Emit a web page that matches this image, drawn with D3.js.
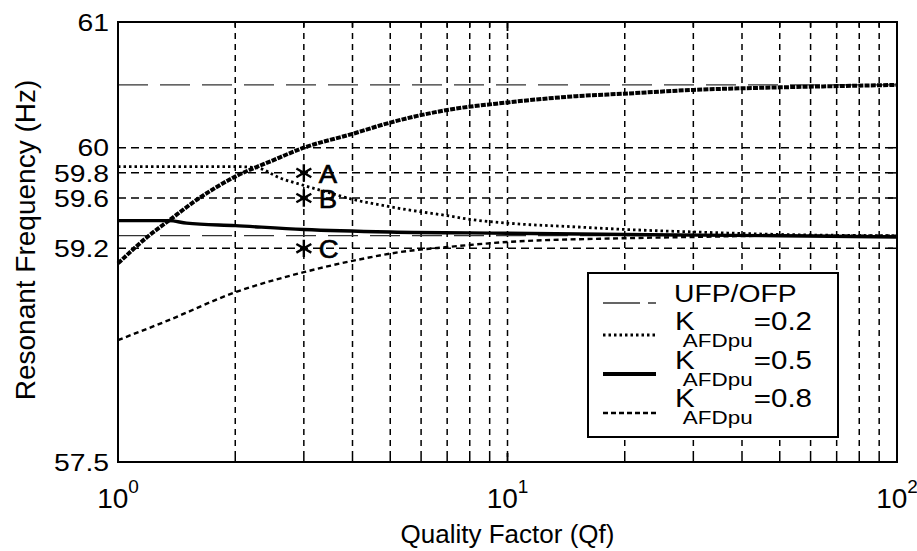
<!DOCTYPE html>
<html>
<head>
<meta charset="utf-8">
<title>Resonant Frequency vs Quality Factor</title>
<script src="https://d3js.org/d3.v7.min.js"></script>
<style>
  body { margin: 0; background: #fff; }
  text { font-family: "Liberation Sans", Arial, sans-serif; fill: #000; }
</style>
</head>
<body>
<script>
// ---- data ----
var yTicks = [57.5, 59.2, 59.6, 59.8, 60, 61];
var xTicks = [1, 10, 100];
var xExponents = ["0", "1", "2"];

var ofpLevel = 60.5;
var ufpLevel = 59.3;

// rising boundary curve
var boundaryQ = [1, 1.2, 1.35, 1.6, 2, 2.5, 3, 4, 5, 7, 10, 15, 20, 30, 50, 70, 100];
var boundaryF = [59.08, 59.3, 59.42, 59.59, 59.77, 59.9, 60.0, 60.11, 60.2, 60.3, 60.36, 60.41, 60.43, 60.46, 60.48, 60.49, 60.5];

// K_AFDpu = 0.2
var k02Q = [1, 1.5, 2, 2.28, 2.6, 3, 3.5, 4, 5, 6, 7, 8, 10, 15, 20, 30, 50, 100];
var k02F = [59.85, 59.85, 59.85, 59.84, 59.76, 59.70, 59.64, 59.59, 59.53, 59.49, 59.46, 59.43, 59.40, 59.37, 59.35, 59.33, 59.31, 59.3];

// K_AFDpu = 0.5
var k05Q = [1, 1.35, 1.5, 2, 3, 5, 10, 20, 50, 100];
var k05F = [59.42, 59.42, 59.40, 59.38, 59.35, 59.33, 59.32, 59.31, 59.30, 59.29];

// K_AFDpu = 0.8
var k08Q = [1, 1.33, 2, 3, 4, 5.3, 7, 10, 20, 30, 50, 100];
var k08F = [58.47, 58.62, 58.85, 59.01, 59.1, 59.17, 59.21, 59.25, 59.28, 59.29, 59.3, 59.3];

// operating points
var pointQ = [3, 3, 3];
var pointF = [59.8, 59.6, 59.2];
var pointLabels = ["A", "B", "C"];

var legendValues = ["=0.2", "=0.5", "=0.8"];

// ---- layout ----
var W = 917, H = 551;
var margin = {top: 22, right: 20, bottom: 89, left: 118};
var iw = W - margin.left - margin.right;
var ih = H - margin.top - margin.bottom;
var stretch = 1.18; // the scanned text is a bit wider than Arial

var x = d3.scaleLog().domain([1, 100]).range([0, iw]);
var y = d3.scaleLinear().domain([57.5, 61]).range([ih, 0]);

var svg = d3.select("body").append("svg")
  .attr("width", W)
  .attr("height", H);

var g = svg.append("g")
  .attr("transform", "translate(" + margin.left + "," + margin.top + ")");

// minor log positions for grid (2..9, 10, 20..90)
var gridQ = [];
[1, 10].forEach(function(dec) {
  for (var m = 1; m <= 9; m++) {
    var v = dec * m;
    if (v > 1 && v < 100) gridQ.push(v);
  }
});

// vertical grid
g.selectAll("line.vgrid").data(gridQ).enter().append("line")
  .attr("class", "vgrid")
  .attr("x1", function(d) { return x(d); })
  .attr("x2", function(d) { return x(d); })
  .attr("y1", 0).attr("y2", ih)
  .attr("stroke", "#000").attr("stroke-width", 1.5)
  .attr("stroke-dasharray", "6,5");

// horizontal grid (inner ticks only)
var hGrid = yTicks.filter(function(d) { return d > 57.5 && d < 61; });
g.selectAll("line.hgrid").data(hGrid).enter().append("line")
  .attr("class", "hgrid")
  .attr("x1", 0).attr("x2", iw)
  .attr("y1", function(d) { return y(d); })
  .attr("y2", function(d) { return y(d); })
  .attr("stroke", "#000").attr("stroke-width", 1.5)
  .attr("stroke-dasharray", "8,5");

// UFP / OFP thresholds
g.selectAll("line.limit").data([ofpLevel, ufpLevel]).enter().append("line")
  .attr("class", "limit")
  .attr("x1", 0).attr("x2", iw)
  .attr("y1", function(d) { return y(d); })
  .attr("y2", function(d) { return y(d); })
  .attr("stroke", "#333").attr("stroke-width", 1.3)
  .attr("stroke-dasharray", "30,12");

// curves
function zip(qs, fs) { return qs.map(function(q, i) { return [q, fs[i]]; }); }
var line = d3.line()
  .x(function(d) { return x(d[0]); })
  .y(function(d) { return y(d[1]); })
  .curve(d3.curveMonotoneX);

var series = [
  {pts: zip(k08Q, k08F), w: 2.4, dash: "5,3.5"},
  {pts: zip(k05Q, k05F), w: 3.4, dash: null},
  {pts: zip(k02Q, k02F), w: 2.8, dash: "2.5,3"},
  {pts: zip(boundaryQ, boundaryF), w: 4, dash: "5,1.2"}
];

g.selectAll("path.curve").data(series).enter().append("path")
  .attr("class", "curve")
  .attr("d", function(d) { return line(d.pts); })
  .attr("fill", "none")
  .attr("stroke", "#000")
  .attr("stroke-width", function(d) { return d.w; })
  .attr("stroke-dasharray", function(d) { return d.dash; });

// operating points A, B, C
var pts = pointQ.map(function(q, i) { return {q: q, f: pointF[i], label: pointLabels[i]}; });
g.selectAll("path.pt").data(pts).enter().append("path")
  .attr("class", "pt")
  .attr("transform", function(d) { return "translate(" + x(d.q) + "," + y(d.f) + ")"; })
  .attr("d", d3.symbol(d3.symbolAsterisk, 210))
  .attr("fill", "none").attr("stroke", "#000").attr("stroke-width", 2.4);

g.selectAll("text.ptlabel").data(pts).enter().append("text")
  .attr("class", "ptlabel")
  .attr("transform", function(d) {
    return "translate(" + (x(d.q) + 15) + "," + (y(d.f) + 10) + ") scale(1.1,1)";
  })
  .attr("font-size", 25)
  .attr("stroke", "#000").attr("stroke-width", 0.6)
  .text(function(d) { return d.label; });

// frame
g.append("rect")
  .attr("width", iw).attr("height", ih)
  .attr("fill", "none").attr("stroke", "#000").attr("stroke-width", 2);

// inner ticks
var tickQ = [1, 10, 100].concat(gridQ);
g.selectAll("line.xtb").data(tickQ).enter().append("line")
  .attr("x1", function(d) { return x(d); }).attr("x2", function(d) { return x(d); })
  .attr("y1", ih).attr("y2", function(d) { return ih - (xTicks.indexOf(d) >= 0 ? 9 : 5); })
  .attr("stroke", "#000").attr("stroke-width", 1.5);
g.selectAll("line.xtt").data(tickQ).enter().append("line")
  .attr("x1", function(d) { return x(d); }).attr("x2", function(d) { return x(d); })
  .attr("y1", 0).attr("y2", function(d) { return (xTicks.indexOf(d) >= 0 ? 9 : 5); })
  .attr("stroke", "#000").attr("stroke-width", 1.5);
g.selectAll("line.ytr").data(yTicks).enter().append("line")
  .attr("x1", iw).attr("x2", iw - 9)
  .attr("y1", function(d) { return y(d); }).attr("y2", function(d) { return y(d); })
  .attr("stroke", "#000").attr("stroke-width", 1.5);

// y tick labels
g.selectAll("text.ytick").data(yTicks).enter().append("text")
  .attr("class", "ytick")
  .attr("transform", function(d) { return "translate(-9," + y(d) + ") scale(" + stretch + ",1)"; })
  .attr("dy", "0.36em")
  .attr("text-anchor", "end")
  .attr("font-size", 24)
  .text(function(d) { return String(d); });

// x tick labels 10^n
var xl = g.selectAll("text.xtick").data(xTicks).enter().append("text")
  .attr("class", "xtick")
  .attr("x", function(d) { return x(d); })
  .attr("y", ih + 46)
  .attr("text-anchor", "middle")
  .attr("font-size", 28);
xl.append("tspan").text("10");
xl.append("tspan")
  .attr("dy", -15)
  .attr("font-size", 19)
  .text(function(d, i) { return xExponents[i]; });

// axis titles
g.append("text")
  .attr("x", iw / 2)
  .attr("y", ih + 81)
  .attr("text-anchor", "middle")
  .attr("font-size", 26)
  .text("Quality Factor (Qf)");

svg.append("text")
  .attr("transform", "translate(35,240) rotate(-90)")
  .attr("text-anchor", "middle")
  .attr("font-size", 28)
  .text("Resonant Frequency (Hz)");

// legend
var lg = svg.append("g").attr("transform", "translate(588,273)");
lg.append("rect")
  .attr("width", 250).attr("height", 164)
  .attr("fill", "#fff").attr("stroke", "#000").attr("stroke-width", 2);

var legendStyles = [
  {w: 1.3, dash: "37,8", stroke: "#333"},
  {w: 2.8, dash: "2.5,3", stroke: "#000"},
  {w: 3.8, dash: null, stroke: "#000"},
  {w: 2.4, dash: "5,3", stroke: "#000"}
];
var sampleY = [30, 62, 101, 140];
lg.selectAll("line.sample").data(legendStyles).enter().append("line")
  .attr("x1", 15).attr("x2", 68)
  .attr("y1", function(d, i) { return sampleY[i]; })
  .attr("y2", function(d, i) { return sampleY[i]; })
  .attr("stroke", function(d) { return d.stroke; })
  .attr("stroke-width", function(d) { return d.w; })
  .attr("stroke-dasharray", function(d) { return d.dash; });

lg.append("text")
  .attr("transform", "translate(86,29) scale(" + stretch + ",1)")
  .attr("font-size", 24)
  .text("UFP/OFP");

var kText = lg.selectAll("text.krow").data(legendValues).enter().append("text")
  .attr("class", "krow")
  .attr("transform", function(d, i) {
    return "translate(87," + (57 + i * 38.5) + ") scale(" + stretch + ",1)";
  })
  .attr("font-size", 25);
kText.append("tspan").text("K");
kText.append("tspan")
  .attr("dx", -10).attr("dy", 17)
  .attr("font-size", 19)
  .text("AFDpu");
kText.append("tspan")
  .attr("dx", 1).attr("dy", -17)
  .attr("font-size", 25)
  .text(function(d) { return d; });
</script>
</body>
</html>
